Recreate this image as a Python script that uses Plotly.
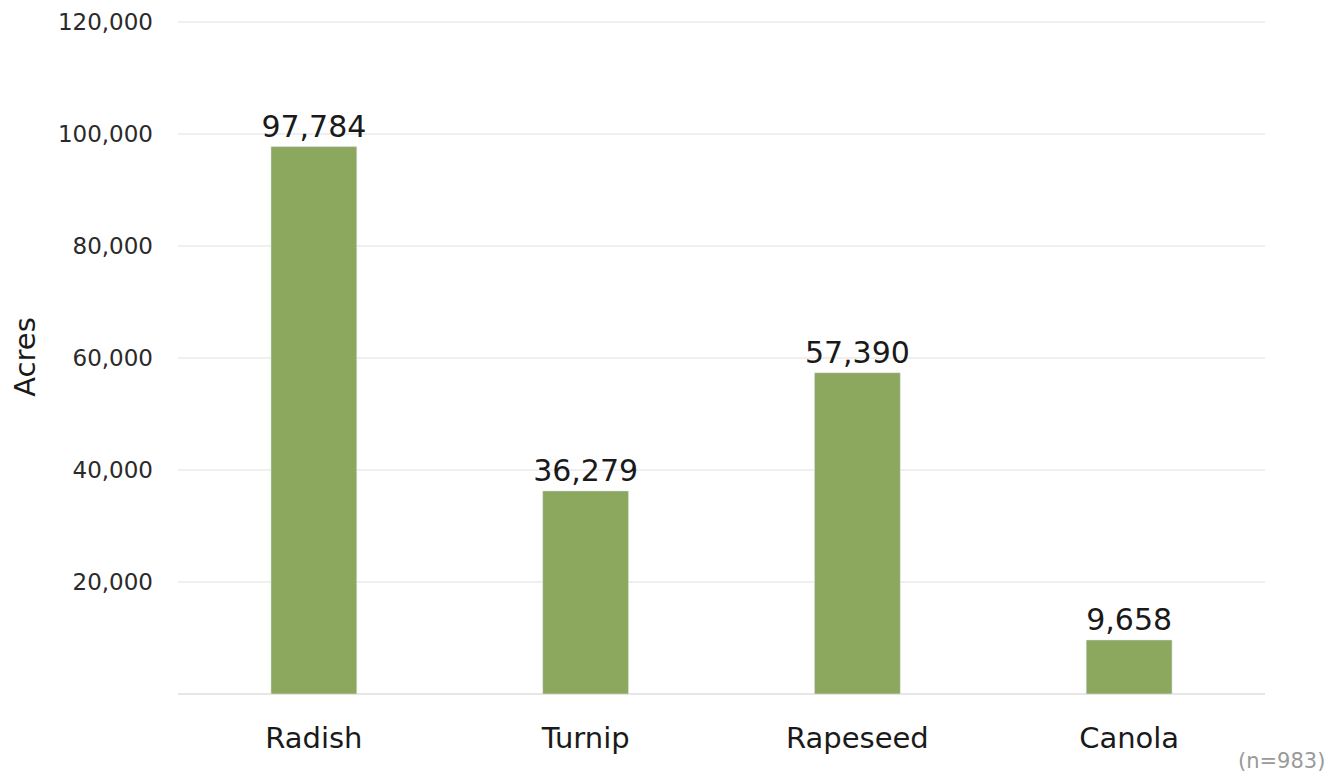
import plotly.graph_objects as go

# Datos
cultivos = ["Radish", "Turnip", "Rapeseed", "Canola"]
acres = [97784, 36279, 57390, 9658]
ticks_y = [20000, 40000, 60000, 80000, 100000, 120000]

COLOR_BARRA = "#8ca75e"
FUENTE = "DejaVu Sans, Arial, sans-serif"

fig = go.Figure(
    go.Bar(
        x=cultivos,
        y=acres,
        marker_color=COLOR_BARRA,
        text=[f"{v:,}" for v in acres],
        textposition="outside",
        constraintext="none",  # que no encoja las etiquetas al ancho de la barra
        textfont=dict(size=30, color="#1a1a1a", family=FUENTE),
        cliponaxis=False,
    )
)

# la página añade 8px de margen al body, se compensa aquí
fig.update_layout(
    width=1334,
    height=766,
    margin=dict(l=170, r=77, t=12, b=80),
    plot_bgcolor="white",
    paper_bgcolor="white",
    bargap=0.684,
    showlegend=False,
    font=dict(family=FUENTE, color="#222"),
    xaxis=dict(
        tickfont=dict(size=29, color="#1a1a1a"),
        showgrid=False,
        ticks="",
        ticklabelstandoff=24,
        automargin=False,
    ),
    yaxis=dict(
        range=[0, 120400],
        tickvals=ticks_y,
        tickformat=",d",
        tickfont=dict(size=23, color="#2a2a2a"),
        gridcolor="#efefef",
        gridwidth=2,
        zeroline=True,
        zerolinecolor="#e6e6e6",
        zerolinewidth=2,
        ticks="",
        ticklabelstandoff=24,
        automargin=False,
        title=dict(text="Acres", font=dict(size=29, color="#1a1a1a"), standoff=28),
    ),
    annotations=[
        dict(
            text="(n=983)",
            xref="paper", yref="paper",
            x=1.0, y=-0.1,
            xanchor="right", yanchor="middle",
            xshift=62,
            showarrow=False,
            font=dict(size=21, color="#9a9a9a"),
        )
    ],
)

fig.write_html("out.html")
